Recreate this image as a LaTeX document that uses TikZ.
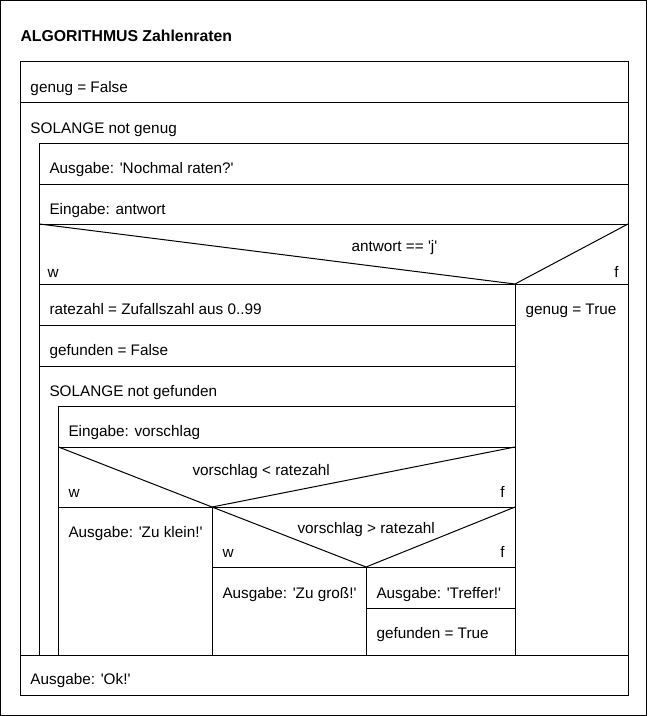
\documentclass[tikz,border=0pt]{standalone}
\usepackage{fontspec}
\setmainfont{Liberation Sans}[Ligatures=TeXOff]
\begin{document}
\begin{tikzpicture}[x=1pt,y=-1pt,line width=1pt,
  txt/.style={anchor=base west,inner sep=0pt,font=\fontsize{15.3}{18}\selectfont},
  txtr/.style={anchor=base east,inner sep=0pt,font=\fontsize{15.3}{18}\selectfont},
  ttl/.style={anchor=base west,inner sep=0pt,font=\fontsize{15.8}{18}\selectfont\bfseries}]
\useasboundingbox (0,0) rectangle (649,716);
% frames
\draw (0.5,0.5) rectangle (646,715);
\draw (20,61) rectangle (628,695);
% rows
\draw (20,102) -- (628,102);
\draw (628,143) -- (39.5,143) -- (39.5,655);
\draw (39.5,184) -- (628,184);
\draw (39.5,224) -- (628,224);
\draw (39.5,284) -- (628,284);
\draw (39.5,224) -- (515,284) -- (628,224);
\draw (515,284) -- (515,655);
\draw (39.5,325) -- (515,325);
\draw (39.5,366) -- (515,366);
\draw (515,406) -- (58.5,406) -- (58.5,655);
\draw (58.5,447) -- (515,447);
\draw (58.5,507) -- (515,507);
\draw (58.5,447) -- (212,507) -- (515,447);
\draw (212,507) -- (212,655);
\draw (212,567) -- (515,567);
\draw (212,507) -- (366,567) -- (515,507);
\draw (366,567) -- (366,655);
\draw (366,608) -- (515,608);
\draw (20,655) -- (628,655);
% texts
\node[ttl] (title) at (20,41) {ALGORITHMUS Zahlenraten};
\node[txt] (t1) at (30,92) {genug = False};
\node[txt] (t2) at (30,133) {SOLANGE not genug};
\node[txt] (t3) at (49,173) {Ausgabe: 'Nochmal raten?'};
\node[txt] (t4) at (49,214) {Eingabe: antwort};
\node[txt] (c1) at (351,251) {antwort == 'j'};
\node[txt] (w1) at (47,277) {w};
\node[txtr] (f1) at (619,277) {f};
\node[txt] (t5) at (49,314) {ratezahl = Zufallszahl aus 0..99};
\node[txt] (t6) at (525,314) {genug = True};
\node[txt] (t7) at (49,355) {gefunden = False};
\node[txt] (t8) at (49,396) {SOLANGE not gefunden};
\node[txt] (t9) at (68,436) {Eingabe: vorschlag};
\node[txt] (c2) at (192,475) {vorschlag < ratezahl};
\node[txt] (w2) at (68,497) {w};
\node[txtr] (f2) at (505,497) {f};
\node[txt] (t10) at (68,537) {Ausgabe: 'Zu klein!'};
\node[txt] (c3) at (297,533) {vorschlag > ratezahl};
\node[txt] (w3) at (222,557) {w};
\node[txtr] (f3) at (505,557) {f};
\node[txt] (t11) at (222,598) {Ausgabe: 'Zu groß!'};
\node[txt] (t12) at (376,598) {Ausgabe: 'Treffer!'};
\node[txt] (t13) at (376,638) {gefunden = True};
\node[txt] (t14) at (30,684) {Ausgabe: 'Ok!'};
\end{tikzpicture}
\end{document}
